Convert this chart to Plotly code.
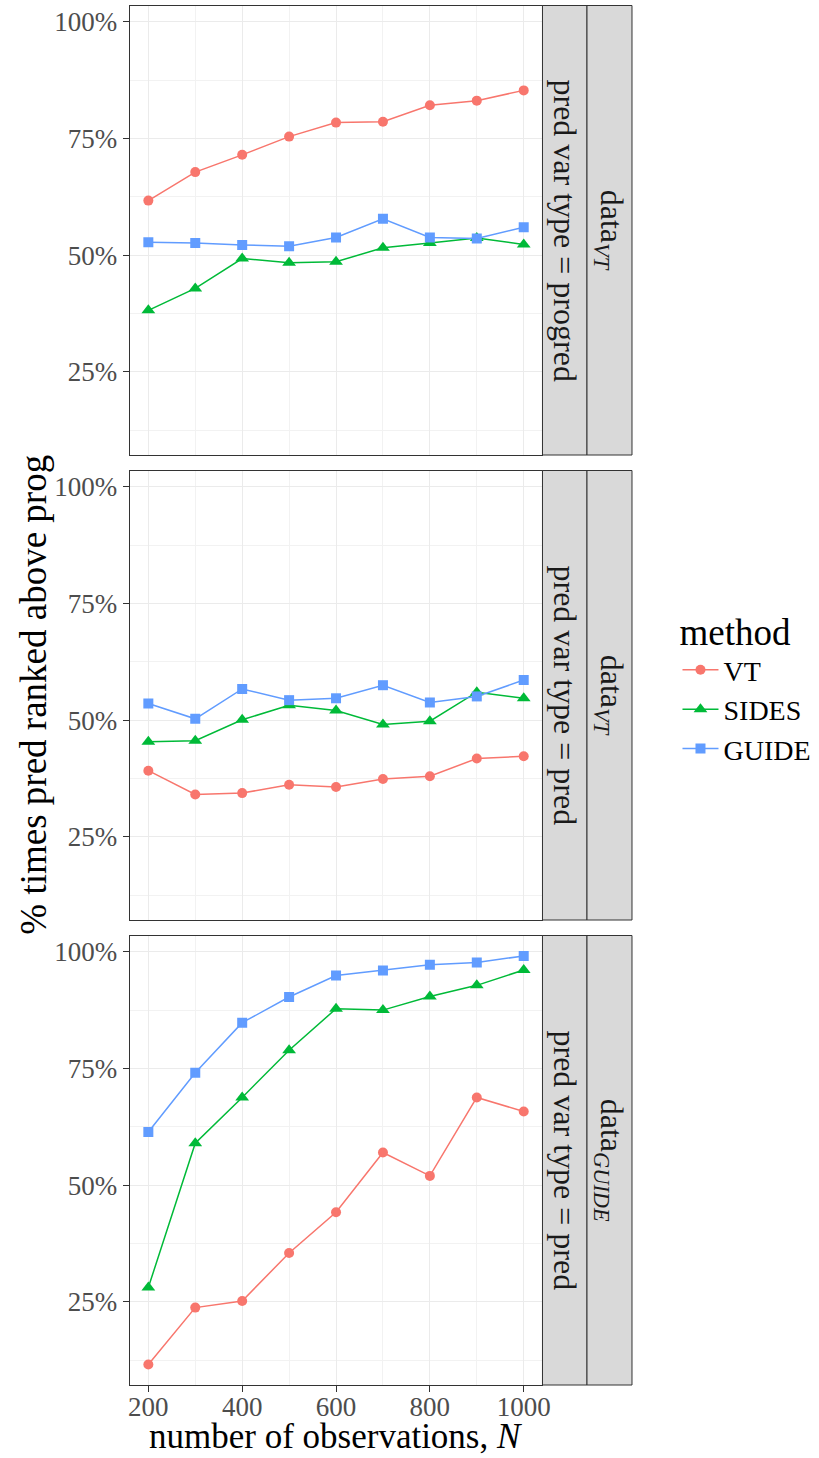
import plotly.graph_objects as go

N = [200, 300, 400, 500, 600, 700, 800, 900, 1000]
methods = ["VT", "SIDES", "GUIDE"]

# panel 1: data_VT, pred var type = progred
p1_VT = [61.7, 67.8, 71.5, 75.4, 78.4, 78.6, 82.1, 83.1, 85.3]
p1_SIDES = [38.2, 42.9, 49.3, 48.4, 48.6, 51.6, 52.6, 53.7, 52.3]
p1_GUIDE = [52.8, 52.6, 52.2, 51.9, 53.8, 57.8, 53.8, 53.6, 56.0]
# panel 2: data_VT, pred var type = pred
p2_VT = [39.2, 34.1, 34.4, 36.2, 35.7, 37.4, 38.0, 41.8, 42.3]
p2_SIDES = [45.4, 45.6, 50.1, 53.2, 52.1, 49.1, 49.8, 56.0, 54.7]
p2_GUIDE = [53.6, 50.3, 56.7, 54.3, 54.7, 57.5, 53.8, 55.1, 58.6]
# panel 3: data_GUIDE, pred var type = pred
p3_VT = [11.6, 23.8, 25.2, 35.5, 44.2, 57.0, 52.0, 68.8, 65.8]
p3_SIDES = [28.1, 59.0, 68.8, 78.9, 87.8, 87.5, 90.4, 92.8, 96.1]
p3_GUIDE = [61.4, 74.1, 84.8, 90.3, 94.9, 96.0, 97.2, 97.7, 99.1]

strip1_labels = ["pred var type = progred", "pred var type = pred", "pred var type = pred"]
strip2_labels = ["data<sub><i>VT</i></sub>", "data<sub><i>VT</i></sub>", "data<sub><i>GUIDE</i></sub>"]
y_ticks = [25, 50, 75, 100]
y_ticktext = ["25%", "50%", "75%", "100%"]
x_ticks = [200, 400, 600, 800, 1000]

panels = [
    {"VT": p1_VT, "SIDES": p1_SIDES, "GUIDE": p1_GUIDE},
    {"VT": p2_VT, "SIDES": p2_SIDES, "GUIDE": p2_GUIDE},
    {"VT": p3_VT, "SIDES": p3_SIDES, "GUIDE": p3_GUIDE},
]

colors = {"VT": "#F8766D", "SIDES": "#00BA38", "GUIDE": "#619CFF"}
symbols = {"VT": "circle", "SIDES": "triangle-up", "GUIDE": "square"}
msize = {"VT": 10, "SIDES": 12, "GUIDE": 10}

W, H = 819, 1458
FONT = "Liberation Serif"

def px_x(v):
    return v / W

def px_y(v):
    return 1 - v / H

panel_left, panel_right = 130, 547.5
strip1 = (547.5, 592.5)
strip2 = (592.5, 638)
panel_rows = [(5.5, 455), (470.5, 920), (935.5, 1385)]

all_vals = [v for p in panels for s in p.values() for v in s]
ymin, ymax = min(all_vals), max(all_vals)
yr = ymax - ymin
yrange = [ymin - 0.05 * yr, ymax + 0.05 * yr]
xr = max(N) - min(N)
xrange = [min(N) - 0.05 * xr, max(N) + 0.05 * xr]

fig = go.Figure()
layout = {}
shapes = []
annotations = []

for i, p in enumerate(panels):
    k = "" if i == 0 else str(i + 1)
    for m in methods:
        fig.add_trace(go.Scatter(
            x=N, y=p[m], mode="lines+markers", name=m,
            xaxis="x" + k, yaxis="y" + k,
            line=dict(color=colors[m], width=1.5),
            marker=dict(symbol=symbols[m], size=msize[m], color=colors[m]),
            showlegend=(i == 0),
        ))
    top, bot = panel_rows[i]
    is_bottom = (i == 2)
    layout["xaxis" + k] = dict(
        domain=[px_x(panel_left), px_x(panel_right)],
        anchor="y" + k, range=xrange,
        tickvals=x_ticks, showticklabels=is_bottom,
        ticks="outside" if is_bottom else "", ticklen=6, tickcolor="#333333",
        ticklabelstandoff=-8,
        tickfont=dict(family=FONT, size=27, color="#4D4D4D"),
        showgrid=True, gridcolor="#EBEBEB", gridwidth=1.2,
        minor=dict(dtick=100, tick0=0, showgrid=True, gridcolor="#F2F2F2", gridwidth=0.6),
        showline=True, mirror=True, linecolor="#333333", linewidth=1,
        zeroline=False,
    )
    layout["yaxis" + k] = dict(
        domain=[px_y(bot), px_y(top)],
        anchor="x" + k, range=yrange,
        tickvals=y_ticks, ticktext=y_ticktext,
        ticks="outside", ticklen=6, tickcolor="#333333",
        tickfont=dict(family=FONT, size=27, color="#4D4D4D"),
        showgrid=True, gridcolor="#EBEBEB", gridwidth=1.2,
        minor=dict(tickvals=[12.5, 37.5, 62.5, 87.5], showgrid=True, gridcolor="#F2F2F2", gridwidth=0.6),
        showline=True, mirror=True, linecolor="#333333", linewidth=1,
        zeroline=False,
    )
    for (a, b), lab in ((strip1, strip1_labels[i]), (strip2, strip2_labels[i])):
        shapes.append(dict(type="rect", xref="paper", yref="paper",
                           x0=px_x(a), x1=px_x(b), y0=px_y(bot), y1=px_y(top),
                           fillcolor="#D9D9D9", line=dict(color="#333333", width=1)))
        annotations.append(dict(xref="paper", yref="paper",
                                x=px_x((a + b) / 2), y=px_y((top + bot) / 2),
                                text=lab, textangle=90, showarrow=False,
                                xanchor="center", yanchor="middle",
                                font=dict(family=FONT, size=32, color="#1A1A1A")))

annotations.append(dict(xref="paper", yref="paper", x=px_x(338), y=px_y(1458),
                        text="number of observations, <i>N</i>", showarrow=False,
                        xanchor="center", yanchor="bottom",
                        font=dict(family=FONT, size=35, color="black")))
annotations.append(dict(xref="paper", yref="paper", x=px_x(32), y=px_y(695),
                        text="% times pred ranked above prog", textangle=-90, showarrow=False,
                        xanchor="center", yanchor="middle",
                        font=dict(family=FONT, size=37, color="black")))

fig.update_layout(
    width=W, height=H,
    margin=dict(l=0, r=0, t=0, b=0),
    paper_bgcolor="white", plot_bgcolor="white",
    shapes=shapes, annotations=annotations,
    legend=dict(
        x=px_x(684), y=px_y(597), xanchor="left", yanchor="top",
        title=dict(text="method", font=dict(family=FONT, size=37, color="black")),
        font=dict(family=FONT, size=28, color="black"),
        bgcolor="rgba(0,0,0,0)", itemwidth=36, tracegroupgap=0,
    ),
    **layout,
)

fig.write_html("out.html")
